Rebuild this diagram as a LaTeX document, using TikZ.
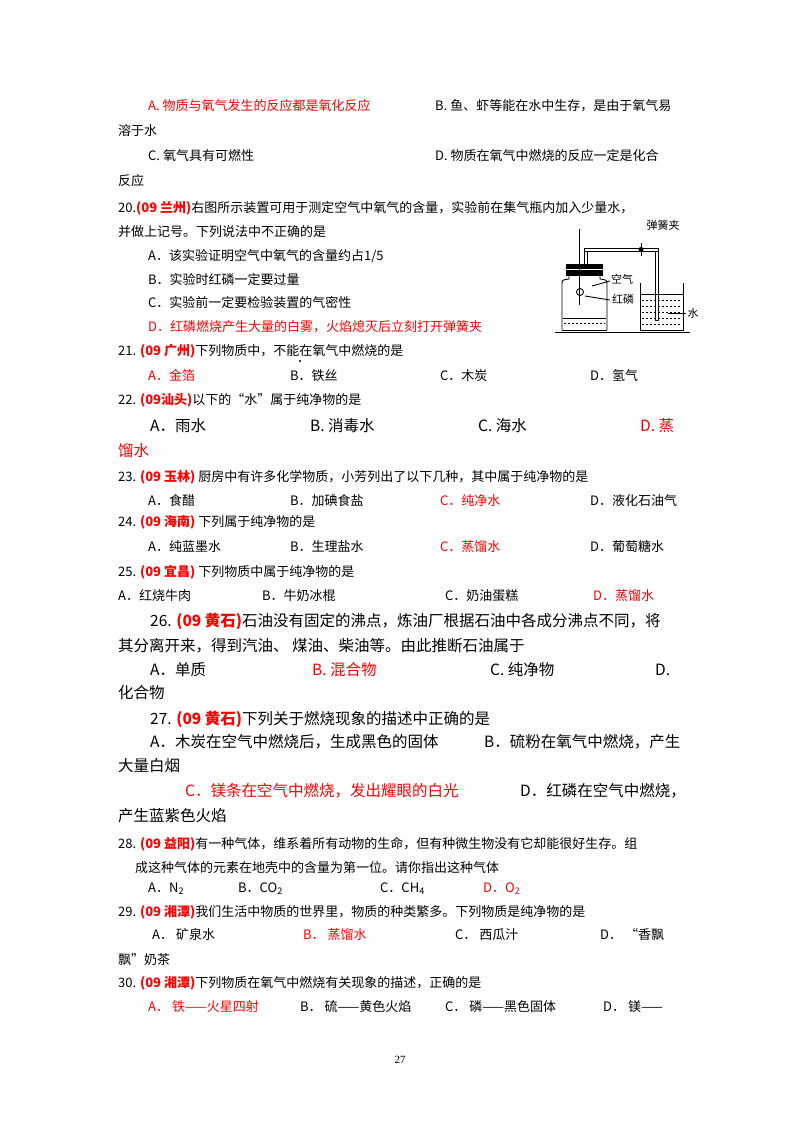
\documentclass[tikz,border=0pt]{standalone}
\usepackage{fontspec}
\setmainfont{Liberation Serif}
\newfontfamily\cjk{Noto Sans CJK SC}
\begin{document}
\begin{tikzpicture}[x=1pt,y=-1pt,
  t/.style={anchor=base west,inner sep=0pt,font=\cjk\fontsize{13}{15}\selectfont},
  tl/.style={anchor=base west,inner sep=0pt,font=\cjk\fontsize{15.5}{18}\selectfont},
  r/.style={text=red},
  lab/.style={anchor=center,inner sep=0pt,font=\cjk\fontsize{11}{12}\selectfont}]
\useasboundingbox[fill=white] (0,0) rectangle (800,1132);
\def\src#1{\textcolor{red}{\textbf{#1}}}
\node[t,r] (l1a) at (148,110) {A. 物质与氧气发生的反应都是氧化反应};
\node[t] (l1b) at (435,110) {B. 鱼、虾等能在水中生存，是由于氧气易};
\node[t] (l2) at (118,135) {溶于水};
\node[t] (l3a) at (148,160) {C. 氧气具有可燃性};
\node[t] (l3b) at (435,160) {D. 物质在氧气中燃烧的反应一定是化合};
\node[t] (l4) at (118,185) {反应};
\node[t] (q20) at (118,212) {20.\src{(09 兰州)}右图所示装置可用于测定空气中氧气的含量，实验前在集气瓶内加入少量水，};
\node[t] (q20b) at (118,236) {并做上记号。下列说法中不正确的是};
\node[t] (q20A) at (148,260) {A．该实验证明空气中氧气的含量约占1/5};
\node[t] (q20B) at (148,284) {B．实验时红磷一定要过量};
\node[t] (q20C) at (148,307) {C．实验前一定要检验装置的气密性};
\node[t,r] (q20D) at (148,331) {D．红磷燃烧产生大量的白雾，火焰熄灭后立刻打开弹簧夹};
\node[t] (q21) at (118,355) {21. \src{(09 广州)}下列物质中，不能在氧气中燃烧的是};
\fill (300,361) circle (1.2);
\node[t,r] (q21A) at (148,380) {A．金箔};
\node[t] (q21B) at (290,380) {B．铁丝};
\node[t] (q21C) at (440,380) {C．木炭};
\node[t] (q21D) at (590,380) {D．氢气};
\node[t] (q22) at (118,404) {22. \src{(09汕头)}以下的“水”属于纯净物的是};
\node[tl] (q22A) at (150,431) {A．雨水};
\node[tl] (q22B) at (310,431) {B. 消毒水};
\node[tl] (q22C) at (478,431) {C. 海水};
\node[tl,r] (q22D) at (640,431) {D. 蒸};
\node[tl,r] (q22E) at (118,456) {馏水};
\node[t] (q23) at (118,481) {23. \src{(09 玉林)} 厨房中有许多化学物质，小芳列出了以下几种，其中属于纯净物的是};
\node[t] (q23A) at (148,505) {A．食醋};
\node[t] (q23B) at (290,505) {B．加碘食盐};
\node[t,r] (q23C) at (440,505) {C．纯净水};
\node[t] (q23D) at (590,505) {D．液化石油气};
\node[t] (q24) at (118,526) {24. \src{(09 海南)} 下列属于纯净物的是};
\node[t] (q24A) at (148,551) {A．纯蓝墨水};
\node[t] (q24B) at (290,551) {B．生理盐水};
\node[t,r] (q24C) at (440,551) {C．蒸馏水};
\node[t] (q24D) at (590,551) {D．葡萄糖水};
\node[t] (q25) at (118,576) {25. \src{(09 宜昌)} 下列物质中属于纯净物的是};
\node[t] (q25A) at (118,600) {A．红烧牛肉};
\node[t] (q25B) at (262,600) {B．牛奶冰棍};
\node[t] (q25C) at (445,600) {C．奶油蛋糕};
\node[t,r] (q25D) at (593,600) {D．蒸馏水};
\node[tl] (q26) at (150,626) {26. \src{(09 黄石)}石油没有固定的沸点，炼油厂根据石油中各成分沸点不同，将};
\node[tl] (q26b) at (118,651) {其分离开来，得到汽油、 煤油、柴油等。由此推断石油属于};
\node[tl] (q26A) at (150,675) {A．单质};
\node[tl,r] (q26B) at (312,675) {B. 混合物};
\node[tl] (q26C) at (490,675) {C. 纯净物};
\node[tl] (q26D) at (655,675) {D.};
\node[tl] (q26E) at (118,698) {化合物};
\node[tl] (q27) at (150,724) {27. \src{(09 黄石)}下列关于燃烧现象的描述中正确的是};
\node[tl] (q27A) at (150,747) {A．木炭在空气中燃烧后，生成黑色的固体};
\node[tl] (q27B) at (484,747) {B．硫粉在氧气中燃烧，产生};
\node[tl] (q27b) at (118,771) {大量白烟};
\node[tl,r] (q27C) at (185,796) {C．镁条在空气中燃烧，发出耀眼的白光};
\node[tl] (q27D) at (520,796) {D．红磷在空气中燃烧，};
\node[tl] (q27d) at (118,821) {产生蓝紫色火焰};
\node[t] (q28) at (118,848) {28. \src{(09 益阳)}有一种气体，维系着所有动物的生命，但有种微生物没有它却能很好生存。组};
\node[t] (q28b) at (135,872) {成这种气体的元素在地壳中的含量为第一位。请你指出这种气体};
\node[t] (q28A) at (148,892) {A．N\textsubscript{2}};
\node[t] (q28B) at (238,892) {B．CO\textsubscript{2}};
\node[t] (q28C) at (380,892) {C．CH\textsubscript{4}};
\node[t,r] (q28D) at (483,892) {D．O\textsubscript{2}};
\node[t] (q29) at (118,916) {29. \src{(09 湘潭)}我们生活中物质的世界里，物质的种类繁多。下列物质是纯净物的是};
\node[t] (q29A) at (152,939) {A． 矿泉水};
\node[t,r] (q29B) at (303,939) {B． 蒸馏水};
\node[t] (q29C) at (455,939) {C． 西瓜汁};
\node[t] (q29D) at (600,939) {D． “香飘};
\node[t] (q29E) at (118,964) {飘”奶茶};
\node[t] (q30) at (118,987) {30. \src{(09 湘潭)}下列物质在氧气中燃烧有关现象的描述，正确的是};
\node[t,r] (q30A) at (148,1011) {A． 铁——火星四射};
\node[t] (q30B) at (300,1011) {B． 硫——黄色火焰};
\node[t] (q30C) at (445,1011) {C． 磷——黑色固体};
\node[t] (q30D) at (603,1011) {D． 镁——};
\node[anchor=center,font=\fontsize{11}{12}\selectfont] (pg) at (400,1060) {27};
% apparatus
\begin{scope}[line width=0.9pt]
\draw (555,332) -- (690,332);
\draw (562,330) -- (562,284) .. controls (562,280) .. (569,279) -- (569,272);
\draw (607,330) -- (607,284) .. controls (607,280) .. (600,279) -- (600,272);
\draw (562,330) -- (607,330);
\fill (566,264) rectangle (603,276);
\draw[white,line width=1pt] (566,269) -- (603,269);
\draw (579,229) -- (579,305);
\draw (580,292) circle (3.5);
\draw (584,248) rectangle (658,251);
\draw (655,251) rectangle (658,320);
\draw (584,251) -- (584,264);
\draw (587,251) -- (587,264);
\fill (641,249.5) circle (2.5);
\draw (641,243) -- (641,256);
\draw (640,283) -- (640,330) -- (683,330) -- (683,283);
\draw (640,294) -- (683,294);
\foreach \yy in {300,306,312,318,324} \draw[dash pattern=on 2pt off 2pt,line width=0.5pt] (642,\yy) -- (681,\yy);
\draw[dash pattern=on 2pt off 2pt,line width=0.5pt] (564,323) -- (605,323);
\draw (563,318) -- (606,318);
\draw (610,281) -- (592,286);
\draw (610,300) -- (585,296);
\draw (668,313) -- (686,313);
\end{scope}
\node[lab] (spr) at (663,225) {弹簧夹};
\node[lab] (air) at (622,279) {空气};
\node[lab] (rp) at (623,299) {红磷};
\node[lab] (wt) at (693,313) {水};
\end{tikzpicture}
\end{document}
